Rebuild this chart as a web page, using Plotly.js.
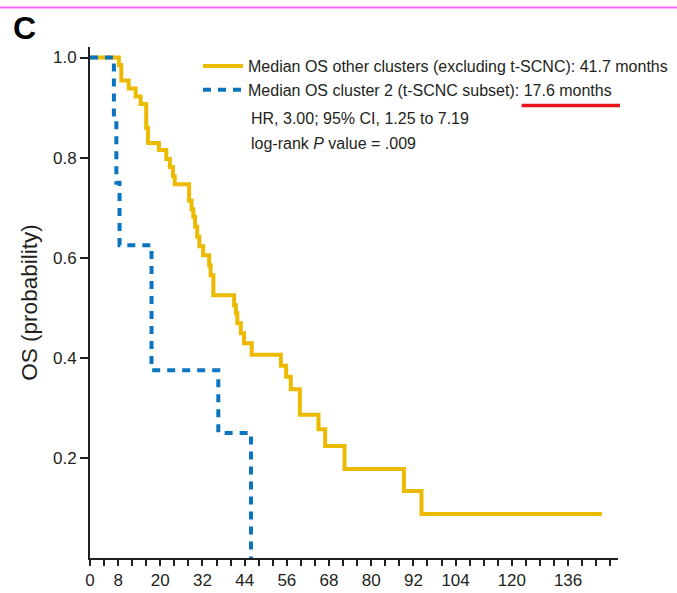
<!DOCTYPE html>
<html>
<head>
<meta charset="utf-8">
<script src="https://cdn.plot.ly/plotly-3.0.1.min.js"></script>
<style>html,body{margin:0;padding:0;background:#fff;}#chart{width:677px;height:593px;}</style>
</head>
<body>
<div id="chart"></div>
<script>
// Kaplan-Meier step data (months, survival probability)
const otherMonths = [0, 8.2, 8.9, 11.0, 13.0, 14.4, 16.0, 16.5, 19.6, 21.7, 22.7, 23.6, 24.1, 28.2, 28.9, 29.4, 29.9, 30.5, 31.1, 32.2, 33.9, 34.3, 35.1, 41.0, 41.5, 41.9, 42.9, 43.8, 46.0, 54.3, 55.8, 57.1, 59.7, 65.0, 66.9, 72.4, 89.3, 94.3, 145.6];
const otherSurv   = [1.0, 0.985, 0.954, 0.938, 0.922, 0.907, 0.859, 0.829, 0.815, 0.797, 0.781, 0.763, 0.747, 0.714, 0.697, 0.682, 0.662, 0.642, 0.623, 0.605, 0.585, 0.565, 0.525, 0.505, 0.489, 0.469, 0.449, 0.429, 0.406, 0.384, 0.362, 0.337, 0.286, 0.257, 0.224, 0.178, 0.134, 0.088, 0.088];

const c2Months = [0, 6.8, 7.5, 8.4, 17.5, 36.5, 45.8];
const c2Surv   = [1.0, 0.875, 0.75, 0.625, 0.375, 0.25, 0.0];

const otherName = "Median OS other clusters (excluding t-SCNC): 41.7 months";
const c2Name = "Median OS cluster 2 (t-SCNC subset): 17.6 months";
const statLines = ["HR, 3.00; 95% CI, 1.25 to 7.19", "log-rank <i>P</i> value = .009"];

const xTickMarks = [];
for (let m = 0; m <= 148; m += 4) xTickMarks.push(m);
const xTickLabels = [0, 8, 20, 32, 44, 56, 68, 80, 92, 104, 120, 136];
const yTickVals = [0.2, 0.4, 0.6, 0.8, 1.0];
const yTickLabels = ["0.2", "0.4", "0.6", "0.8", "1.0"];

const FONT = "Liberation Sans, Arial, sans-serif";
const INK = "#231f20";

const traces = [
  {
    x: otherMonths, y: otherSurv, type: "scatter", mode: "lines",
    line: {shape: "hv", color: "#ECBA00", width: 4},
    name: otherName, legendgroup: "a", hoverinfo: "skip", cliponaxis: false
  },
  {
    x: c2Months, y: c2Surv, type: "scatter", mode: "lines",
    line: {shape: "hv", color: "#0A75BE", width: 4, dash: "8px,7px"},
    name: c2Name, legendgroup: "b", hoverinfo: "skip", cliponaxis: false
  }
];

const W = 677, H = 593, ML = 90, MR = 59, MT = 47, MB = 35;
const pw = W - ML - MR, ph = H - MT - MB;
const px = v => (v - ML) / pw;          // pixel -> paper x
const py = v => (H - MB - v) / ph;      // pixel -> paper y

const layout = {
  width: W, height: H,
  margin: {l: ML, r: MR, t: MT, b: MB, pad: 0, autoexpand: false},
  paper_bgcolor: "#fff", plot_bgcolor: "#fff",
  font: {family: FONT, color: INK, size: 16},
  showlegend: true,
  legend: {
    x: px(198), y: py(49), xanchor: "left", yanchor: "top",
    bgcolor: "rgba(0,0,0,0)", borderwidth: 0, itemwidth: 40,
    font: {family: FONT, size: 16, color: INK},
    tracegroupgap: 6, traceorder: "normal"
  },
  xaxis: {
    range: [0, 150.2], showgrid: false, zeroline: false,
    showline: true, linecolor: INK, linewidth: 2,
    ticks: "outside", ticklen: 6, tickwidth: 2, tickcolor: INK,
    tickmode: "array", tickvals: xTickMarks,
    ticktext: xTickMarks.map(m => xTickLabels.includes(m) ? String(m) : ""),
    tickfont: {family: FONT, size: 17, color: INK}
  },
  yaxis: {
    range: [0, 1.021], showgrid: false, zeroline: false,
    showline: true, linecolor: INK, linewidth: 2,
    ticks: "outside", ticklen: 8, tickwidth: 2, tickcolor: INK,
    tickmode: "array", tickvals: yTickVals, ticktext: yTickLabels,
    tickfont: {family: FONT, size: 17, color: INK},
    title: {text: "OS (probability)", standoff: 9,
            font: {family: FONT, size: 22.5, color: INK}}
  },
  annotations: [
    {xref: "paper", yref: "paper", x: px(249), y: py(118.3), xanchor: "left", yanchor: "middle",
     text: statLines[0], showarrow: false, font: {family: FONT, size: 16, color: INK}},
    {xref: "paper", yref: "paper", x: px(249), y: py(143.3), xanchor: "left", yanchor: "middle",
     text: statLines[1], showarrow: false, font: {family: FONT, size: 16, color: INK}},
    {xref: "paper", yref: "paper", x: px(24), y: py(28), xanchor: "center", yanchor: "middle",
     text: "<b>C</b>", showarrow: false, font: {family: FONT, size: 32, color: "#000"}}
  ],
  shapes: [
    {type: "line", xref: "paper", yref: "paper", x0: px(0), x1: px(W), y0: py(7.5), y1: py(7.5),
     line: {color: "#F76BF7", width: 2}},
    {type: "line", xref: "paper", yref: "paper", x0: px(521.7), x1: px(620), y0: py(105.5), y1: py(105.5),
     line: {color: "#E6141B", width: 3.5}}
  ]
};

Plotly.newPlot("chart", traces, layout, {displayModeBar: false, staticPlot: true});
</script>
</body>
</html>
